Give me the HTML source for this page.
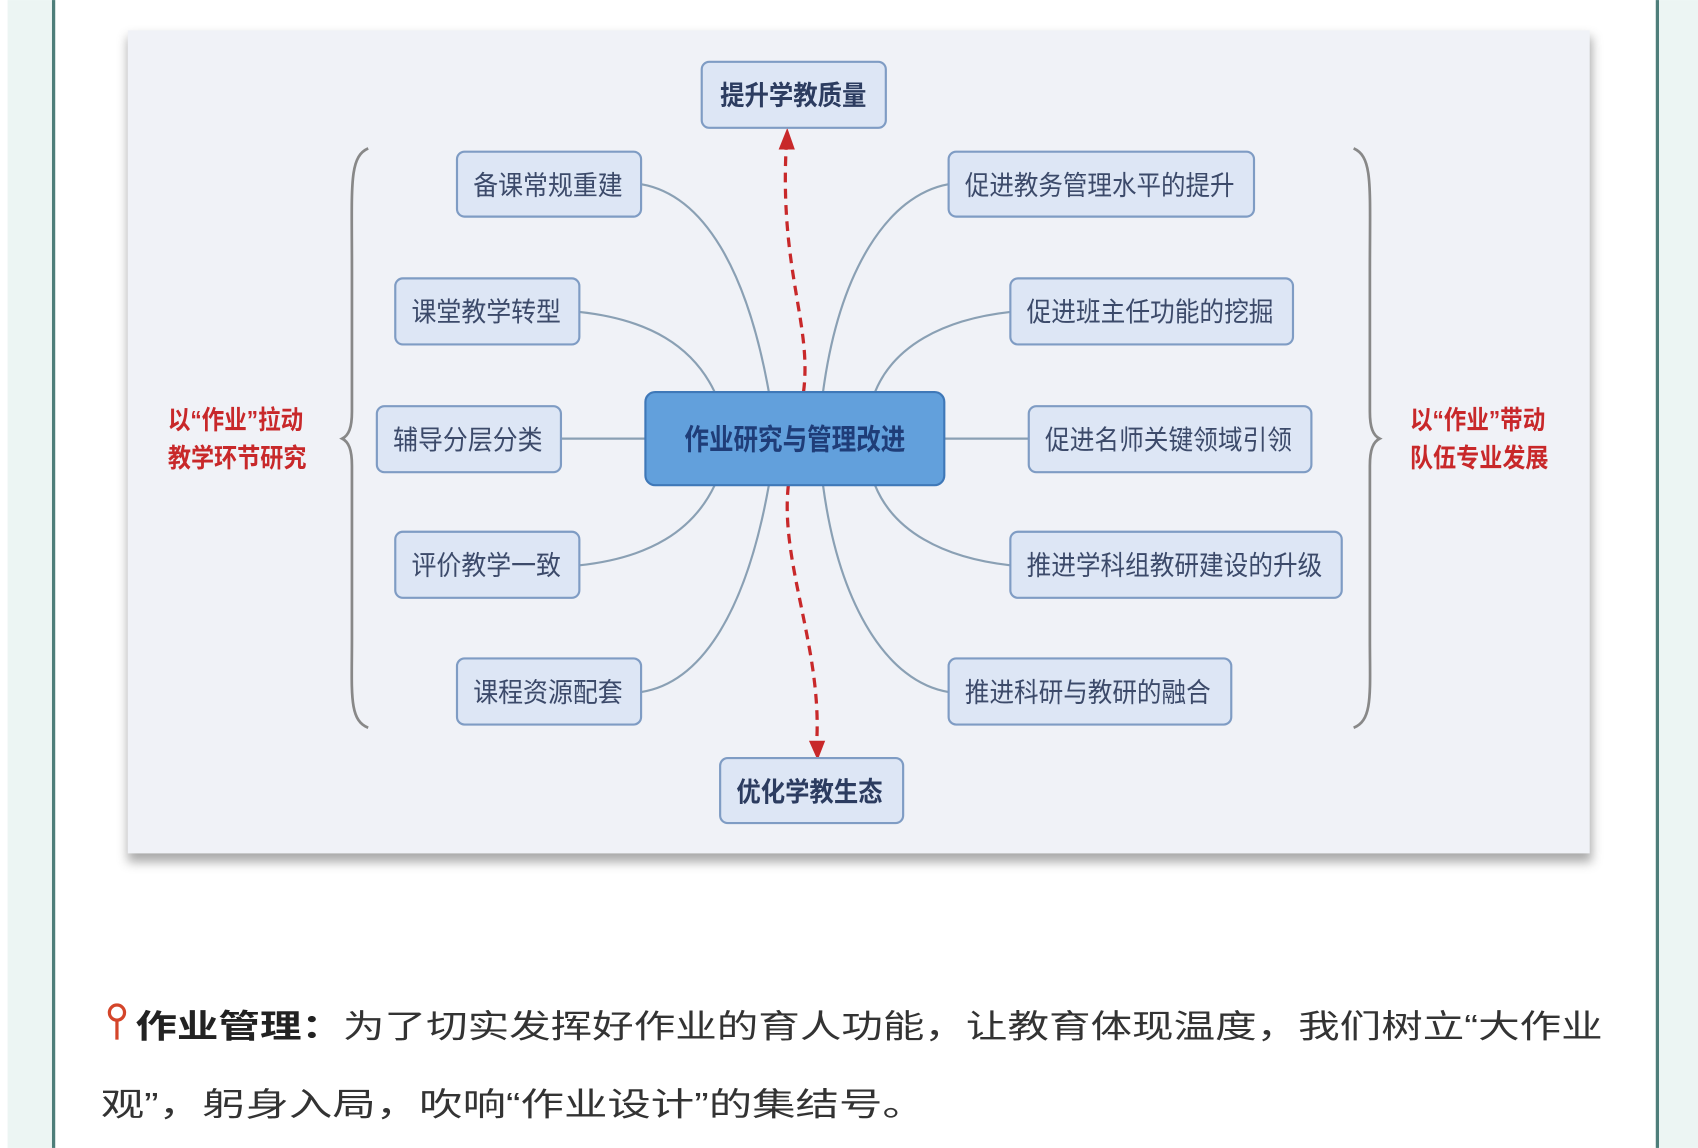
<!DOCTYPE html>
<html><head><meta charset="utf-8"><style>
html,body{margin:0;padding:0;background:#fff;}
svg{display:block;}
</style></head><body>
<svg width="1698" height="1148" viewBox="0 0 1568 1060" xmlns="http://www.w3.org/2000/svg" font-family="'Liberation Sans','Noto Sans CJK SC',sans-serif">
<defs>
<filter id="sh" x="-5%" y="-5%" width="110%" height="115%"><feGaussianBlur stdDeviation="5"/></filter>
</defs>
<rect x="0" y="0" width="1568" height="1060" fill="#fff"/>
<rect x="7" y="0" width="42" height="1060" fill="#ecf5f3"/>
<rect x="48" y="0" width="3" height="1060" fill="#4e7e7a"/>
<rect x="1529" y="0" width="3" height="1060" fill="#4e7e7a"/>
<rect x="1532" y="0" width="36" height="1060" fill="#ecf5f3"/>
<rect x="118" y="34" width="1352" height="762" fill="#555" opacity="0.5" filter="url(#sh)"/>
<rect x="118" y="28" width="1350" height="760" fill="#f0f2f7"/>
<g fill="none" stroke="#8aa0b4" stroke-width="2">
<path d="M592,170 C650,180 690,250 710,362"/>
<path d="M535,288 C600,295 640,320 660,362"/>
<path d="M518,405 L596,405"/>
<path d="M535,522 C600,515 640,490 660,448"/>
<path d="M592,639 C650,630 690,560 710,448"/>
<path d="M876,170 C820,180 775,250 760,362"/>
<path d="M933,288 C870,295 825,320 808,362"/>
<path d="M872,405 L950,405"/>
<path d="M933,522 C870,515 825,490 808,448"/>
<path d="M876,639 C820,630 775,560 760,448"/>
</g>
<g fill="none" stroke="#c8282a" stroke-width="3" stroke-dasharray="9,6">
<path d="M742,362 C750,300 720,250 726,135"/>
<path d="M728,448 C720,520 760,600 754,688"/>
</g>
<path d="M719,138 L727,118 L734,138 Z" fill="#c8282a"/>
<path d="M747,684 L762,684 L755,702 Z" fill="#c8282a"/>
<g fill="none" stroke="#888" stroke-width="2.5">
<path d="M340,137 C322,145 325,170 325,250 L325,380 C325,395 322,402 316,405 C322,408 325,415 325,430 L325,590 C325,640 322,665 340,672"/>
<path d="M1250,137 C1268,145 1265,170 1265,250 L1265,380 C1265,395 1268,402 1274,405 C1268,408 1265,415 1265,430 L1265,590 C1265,640 1268,665 1250,672"/>
</g>
<g fill="#dde6f5" stroke="#7f9cc4" stroke-width="2">
<rect x="648" y="57" width="170" height="61" rx="7"/>
<rect x="422" y="140" width="170" height="60" rx="7"/>
<rect x="365" y="257" width="170" height="61" rx="7"/>
<rect x="348" y="375" width="170" height="61" rx="7"/>
<rect x="365" y="491" width="170" height="61" rx="7"/>
<rect x="422" y="608" width="170" height="61" rx="7"/>
<rect x="876" y="140" width="282" height="60" rx="7"/>
<rect x="933" y="257" width="261" height="61" rx="7"/>
<rect x="950" y="375" width="261" height="61" rx="7"/>
<rect x="933" y="491" width="306" height="61" rx="7"/>
<rect x="876" y="608" width="261" height="61" rx="7"/>
<rect x="665" y="700" width="169" height="60" rx="7"/>
</g>
<rect x="596" y="362" width="276" height="86" rx="9" fill="#62a0dc" stroke="#3f78b8" stroke-width="2"/>
<g font-size="25" fill="#3c4a6a" lengthAdjust="spacingAndGlyphs">
<text x="665" y="97" font-weight="bold" fill="#2c3c60" textLength="135" lengthAdjust="spacingAndGlyphs">提升学教质量</text>
<text x="437" y="180" textLength="138" lengthAdjust="spacingAndGlyphs">备课常规重建</text>
<text x="380" y="297" textLength="138" lengthAdjust="spacingAndGlyphs">课堂教学转型</text>
<text x="363" y="415" textLength="138" lengthAdjust="spacingAndGlyphs">辅导分层分类</text>
<text x="380" y="531" textLength="138" lengthAdjust="spacingAndGlyphs">评价教学一致</text>
<text x="437" y="648" textLength="138" lengthAdjust="spacingAndGlyphs">课程资源配套</text>
<text x="891" y="180" textLength="249" lengthAdjust="spacingAndGlyphs">促进教务管理水平的提升</text>
<text x="948" y="297" textLength="228" lengthAdjust="spacingAndGlyphs">促进班主任功能的挖掘</text>
<text x="965" y="415" textLength="228" lengthAdjust="spacingAndGlyphs">促进名师关键领域引领</text>
<text x="948" y="531" textLength="273" lengthAdjust="spacingAndGlyphs">推进学科组教研建设的升级</text>
<text x="891" y="648" textLength="227" lengthAdjust="spacingAndGlyphs">推进科研与教研的融合</text>
<text x="680" y="740" font-weight="bold" fill="#2c3c60" textLength="135" lengthAdjust="spacingAndGlyphs">优化学教生态</text>
<text x="632" y="415" font-weight="bold" fill="#1f3d78" font-size="27" textLength="204" lengthAdjust="spacingAndGlyphs">作业研究与管理改进</text>
</g>
<g font-size="24" fill="#c8282a" font-weight="bold">
<text x="155" y="396" textLength="125" lengthAdjust="spacingAndGlyphs">以“作业”拉动</text>
<text x="155" y="431" textLength="128" lengthAdjust="spacingAndGlyphs">教学环节研究</text>
<text x="1302" y="396" textLength="125" lengthAdjust="spacingAndGlyphs">以“作业”带动</text>
<text x="1302" y="431" textLength="128" lengthAdjust="spacingAndGlyphs">队伍专业发展</text>
</g>
<g fill="none" stroke="#d4452a" stroke-width="3">
<circle cx="108" cy="935" r="7"/>
<line x1="108" y1="942" x2="108" y2="960"/>
</g>
<g font-size="30" fill="#333">
<text x="125" y="958" textLength="1355" lengthAdjust="spacingAndGlyphs"><tspan font-weight="bold" fill="#222">作业管理：</tspan>为了切实发挥好作业的育人功能，让教育体现温度，我们树立“大作业</text>
<text x="93" y="1030" textLength="762" lengthAdjust="spacingAndGlyphs">观”，躬身入局，吹响“作业设计”的集结号。</text>
</g>
</svg>
</body></html>
